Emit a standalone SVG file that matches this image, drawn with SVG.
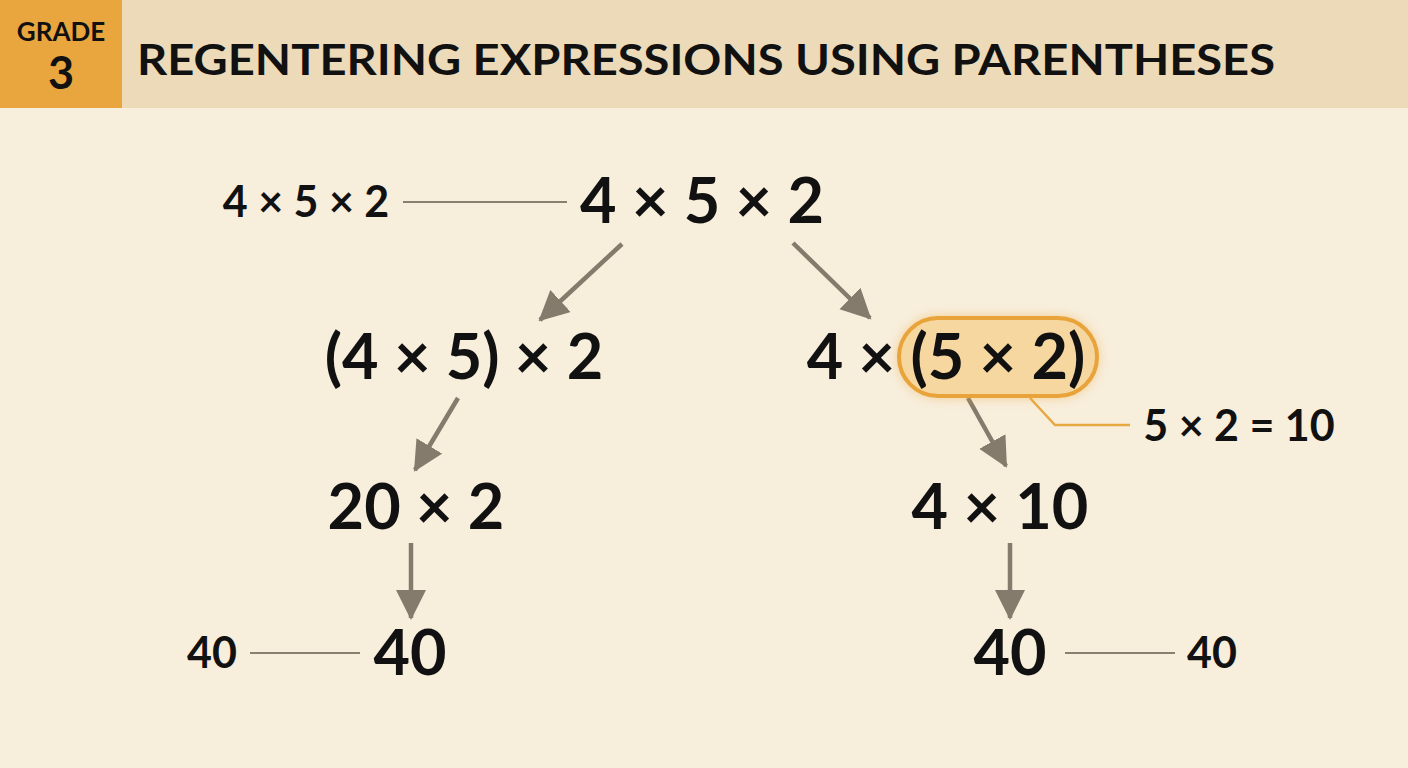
<svg xmlns="http://www.w3.org/2000/svg" width="1408" height="768" viewBox="0 0 1408 768">
<defs>
<style>
.t{font-family:Lato,"Open Sans","Liberation Sans",sans-serif;font-weight:bold;fill:#111}
.big{font-size:63px;text-anchor:middle}
.sm{font-size:43px}
.arr{stroke:#857b6c;stroke-width:4.5;fill:none;marker-end:url(#ah)}
.lead{stroke:#8a8070;stroke-width:2;fill:none}
</style>
<marker id="ah" markerUnits="userSpaceOnUse" markerWidth="34" markerHeight="34" refX="28" refY="15" orient="auto">
<path d="M0,0 L30,15 L0,30 Z" fill="#857b6c"/>
</marker>
<filter id="glow" x="-30%" y="-40%" width="160%" height="180%">
<feGaussianBlur stdDeviation="6"/>
</filter>
</defs>
<rect width="1408" height="768" fill="#f7eedc"/>
<g id="header">
<rect width="1408" height="108" fill="#ecdab8"/>
<rect width="122" height="108" fill="#e9a53e"/>
<text class="t" x="61" y="41" font-size="26" text-anchor="middle">GRADE</text>
<text class="t" x="61" y="89" font-size="45" text-anchor="middle" font-weight="normal">3</text>
<text class="t" x="137" y="75" font-size="42" textLength="1138" lengthAdjust="spacingAndGlyphs">REGENTERING EXPRESSIONS USING PARENTHESES</text>
</g>
<g id="connectors">
<line class="lead" x1="403" y1="202" x2="567" y2="202"/>
<line class="lead" x1="250" y1="653" x2="360" y2="653"/>
<line class="lead" x1="1065" y1="653" x2="1175" y2="653"/>
<polyline points="1030,398 1055,425 1130,425" stroke="#e8a840" stroke-width="2.5" fill="none"/>
<line class="arr" x1="622" y1="244" x2="540" y2="320"/>
<line class="arr" x1="793" y1="243" x2="870" y2="318"/>
<line class="arr" x1="458" y1="398" x2="415" y2="470"/>
<line class="arr" x1="968" y1="398" x2="1006" y2="466"/>
<line class="arr" x1="411" y1="543" x2="411" y2="618"/>
<line class="arr" x1="1010" y1="543" x2="1010" y2="618"/>
</g>
<g id="start">
<text class="t big" x="702" y="223">4 × 5 × 2</text>
</g>
<g id="start-label">
<text class="t sm" x="306" y="217" text-anchor="middle">4 × 5 × 2</text>
</g>
<g id="left-group">
<text class="t big" x="464" y="379">(4 × 5) × 2</text>
</g>
<g id="right-group">
<rect x="898" y="317" width="200" height="80" rx="40" fill="#f0a840" opacity="0.55" filter="url(#glow)"/>
<rect x="899" y="318" width="198" height="78" rx="39" fill="#f6d7a0" stroke="#e8a33a" stroke-width="4"/>
<text class="t big" x="946" y="379">4 × (5 × 2)</text>
</g>
<g id="callout">
<text class="t sm" x="1239" y="441" text-anchor="middle">5 × 2 = 10</text>
</g>
<g id="left-step">
<text class="t big" x="416" y="529">20 × 2</text>
</g>
<g id="right-step">
<text class="t big" x="1000" y="529">4 × 10</text>
</g>
<g id="left-result">
<text class="t big" x="410" y="675">40</text>
<text class="t sm" x="212" y="668" text-anchor="middle">40</text>
</g>
<g id="right-result">
<text class="t big" x="1010" y="675">40</text>
<text class="t sm" x="1212" y="668" text-anchor="middle">40</text>
</g>
</svg>
